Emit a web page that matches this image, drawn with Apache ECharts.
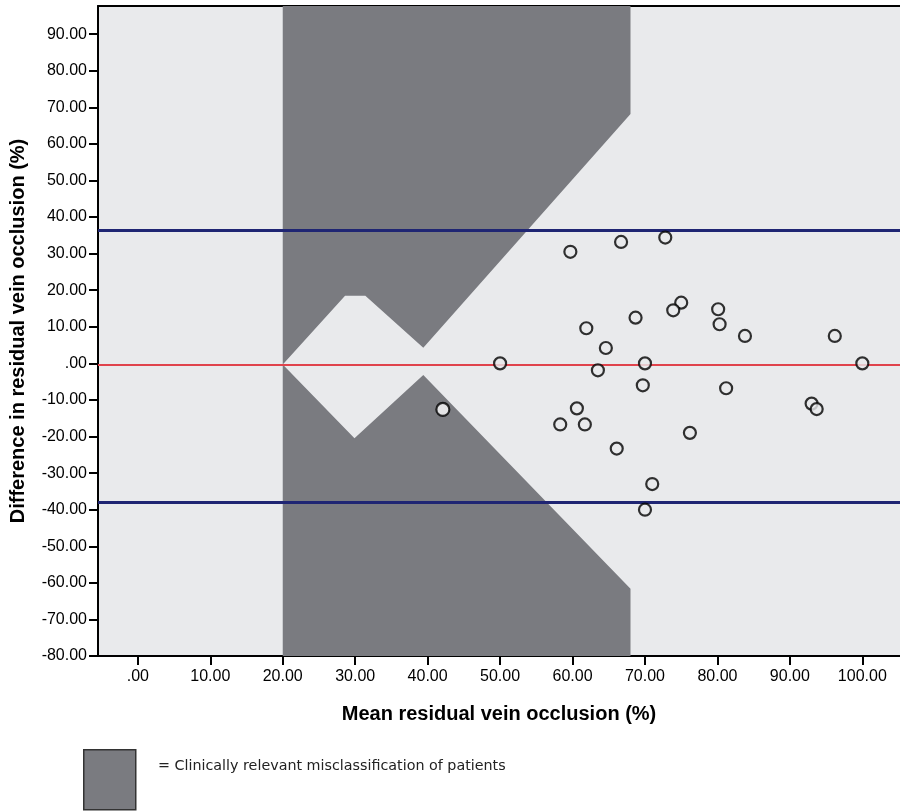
<!DOCTYPE html>
<html>
<head>
<meta charset="utf-8">
<script src="https://cdn.jsdelivr.net/npm/echarts@6/dist/echarts.min.js"></script>
<style>
  html, body { margin: 0; padding: 0; background: #fff; }
  #chart { width: 900px; height: 811px; }
</style>
</head>
<body>
<div id="chart"></div>
<script>
// axis extent and ticks
const xMin = -5.5, xMax = 105.2
const yMin = -80, yMax = 97.7
const xTicks = [0, 10, 20, 30, 40, 50, 60, 70, 80, 90, 100]
const yTicks = [-80, -70, -60, -50, -40, -30, -20, -10, 0, 10, 20, 30, 40, 50, 60, 70, 80, 90]

// bland-altman lines
const meanDiff = -0.3
const upperLoA = 36.5
const lowerLoA = -37.9

// shaded misclassification zones (polygon vertices)
const upperZoneX = [20, 68, 68, 39.4, 31.4, 28.6, 20]
const upperZoneY = [97.7, 97.7, 68.2, 4.3, 18.5, 18.5, -0.3]
const lowerZoneX = [20, 29.9, 39.4, 68, 68, 20]
const lowerZoneY = [-0.3, -20.5, -3.2, -61.6, -80, -80]

// patients: mean vs difference
const meanVals = [59.7, 66.7, 72.8, 75.0, 73.9, 80.1, 80.3, 68.7, 61.9, 83.8, 96.2, 64.6, 70.0, 100.0,
  63.5, 69.7, 81.2, 93.0, 93.7, 60.6, 58.3, 61.7, 76.2, 66.1, 71.0, 70.0, 50.0]
const diffVals = [30.5, 33.2, 34.4, 16.6, 14.5, 14.8, 10.7, 12.5, 9.6, 7.5, 7.5, 4.2, 0.0, 0.0,
  -1.9, -6.0, -6.8, -11.0, -12.5, -12.3, -16.7, -16.7, -19.0, -23.3, -33.0, -40.0, 0.0]
// the one patient inside the shaded zone
const zoneMean = [42.1]
const zoneDiff = [-12.6]

const fmt = v => (v === 0 ? '.00' : v.toFixed(2))

const zoneSeries = (xs, ys) => ({
  type: 'custom',
  z: 1,
  silent: true,
  clip: true,
  data: [[xs[0], ys[0]]],
  renderItem: (params, api) => {
    const points = xs.map((x, i) => api.coord([x, ys[i]]))
    return {
      type: 'polygon',
      shape: { points },
      style: { fill: '#7a7b80' }
    }
  }
})

const chart = echarts.init(document.getElementById('chart'))
const option = {
  animation: false,
  backgroundColor: '#fff',
  grid: {
    left: 98,
    right: 0,
    top: 6,
    bottom: 155,
    outerBoundsMode: 'none',
    containLabel: false,
    show: true,
    backgroundColor: '#e9eaec',
    borderWidth: 0
  },
  xAxis: [
    {
      type: 'value',
      min: xMin,
      max: xMax,
      name: 'Mean residual vein occlusion (%)',
      nameLocation: 'middle',
      nameGap: 48,
      nameTextStyle: { fontFamily: 'Liberation Sans', fontWeight: 'bold', fontSize: 20, color: '#000' },
      splitLine: { show: false },
      axisLine: { onZero: false, lineStyle: { color: '#000', width: 2 } },
      axisTick: { customValues: xTicks, length: 9, lineStyle: { color: '#000', width: 2 } },
      axisLabel: {
        customValues: xTicks,
        formatter: fmt,
        margin: 13,
        fontFamily: 'Liberation Sans',
        fontSize: 16,
        color: '#000'
      }
    },
    {
      type: 'value',
      position: 'top',
      min: xMin,
      max: xMax,
      splitLine: { show: false },
      axisLine: { onZero: false, lineStyle: { color: '#000', width: 2 } },
      axisTick: { show: false },
      axisLabel: { show: false }
    }
  ],
  yAxis: {
    type: 'value',
    min: yMin,
    max: yMax,
    name: 'Difference in residual vein occlusion (%)',
    nameLocation: 'middle',
    nameGap: 70,
    nameTextStyle: { fontFamily: 'Liberation Sans', fontWeight: 'bold', fontSize: 20, color: '#000' },
    splitLine: { show: false },
    axisLine: { show: true, onZero: false, lineStyle: { color: '#000', width: 2 } },
    axisTick: { customValues: yTicks, length: 9, lineStyle: { color: '#000', width: 2 } },
    axisLabel: {
      customValues: yTicks,
      formatter: fmt,
      margin: 11,
      fontFamily: 'Liberation Sans',
      fontSize: 16,
      color: '#000'
    }
  },
  series: [
    zoneSeries(upperZoneX, upperZoneY),
    zoneSeries(lowerZoneX, lowerZoneY),
    {
      type: 'scatter',
      z: 5,
      symbol: 'circle',
      symbolSize: 12,
      itemStyle: { color: '#e9eaec', borderColor: '#000', borderWidth: 2.2 },
      data: meanVals.map((m, i) => [m, diffVals[i]]),
      markLine: {
        silent: true,
        symbol: 'none',
        label: { show: false },
        z: 3,
        data: [
          { yAxis: meanDiff, lineStyle: { color: '#e0434c', width: 2, type: 'solid' } },
          { yAxis: upperLoA, lineStyle: { color: '#1f2573', width: 3, type: 'solid' } },
          { yAxis: lowerLoA, lineStyle: { color: '#1f2573', width: 3, type: 'solid' } }
        ]
      }
    },
    {
      type: 'scatter',
      z: 5,
      symbol: 'circle',
      symbolSize: 13,
      itemStyle: { color: '#fff', borderColor: '#000', borderWidth: 2.2 },
      data: zoneMean.map((m, i) => [m, zoneDiff[i]])
    }
  ],
  graphic: [
    {
      type: 'rect',
      left: 83,
      top: 749,
      shape: { width: 52, height: 60 },
      style: { fill: '#7a7b80', stroke: '#333', lineWidth: 1.5 }
    },
    {
      type: 'text',
      left: 158,
      top: 759,
      style: {
        text: '= Clinically relevant misclassification of patients',
        fontFamily: 'DejaVu Sans',
        fontSize: 14.3,
        fill: '#222'
      }
    }
  ]
}
chart.setOption(option)
</script>
</body>
</html>
